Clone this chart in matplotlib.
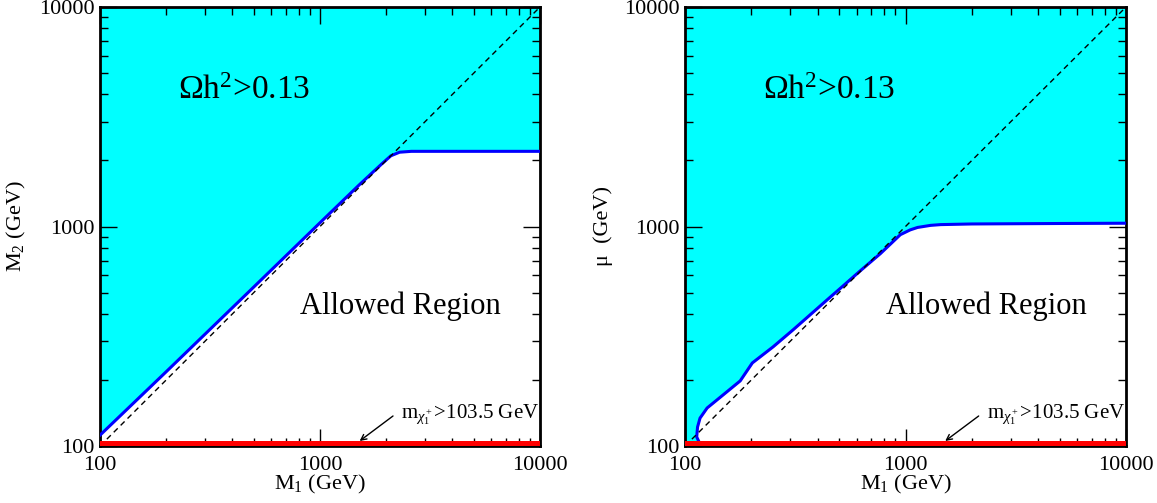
import numpy as np
import matplotlib
matplotlib.use("Agg")
import matplotlib.pyplot as plt
from matplotlib.ticker import LogLocator, FixedLocator, NullFormatter

plt.rcParams['font.family'] = ['Liberation Serif', 'DejaVu Serif']
plt.rcParams['mathtext.fontset'] = 'custom'
plt.rcParams['mathtext.rm'] = 'Liberation Serif'
plt.rcParams['mathtext.it'] = 'Liberation Serif:italic'
plt.rcParams['mathtext.bf'] = 'Liberation Serif:bold'

# Left panel: boundary curve M2 vs M1
left_m1 = [100, 200, 500, 1000, 1500, 1900, 2100, 2300, 2600, 3000, 10000]
left_m2 = [112, 218, 530, 1040, 1540, 1920, 2100, 2180, 2200, 2200, 2200]

# Right panel: boundary curve mu vs M1
right_m1 = [121, 116, 113, 114, 117, 126, 149, 178, 202, 251, 310, 442, 520,
            620, 770, 948, 1050, 1134, 1300, 1443, 2000, 5000, 10000]
right_mu = [100, 104, 110, 122, 134, 149, 171, 198, 239, 283, 339, 464, 535,
            625, 753, 918, 965, 990, 1012, 1020, 1027, 1032, 1035]

diag = [100, 10000]
lep_limit = 103.5
xticks = [100, 1000, 10000]
yticks = [100, 1000, 10000]

fig = plt.figure(figsize=(11.57, 5.03), dpi=100)
W, H = 1157, 503
ax1 = fig.add_axes([100 / W, 1 - 446 / H, 440 / W, 439 / H])
ax2 = fig.add_axes([685 / W, 1 - 446 / H, 441 / W, 439 / H])

cyan = '#00FFFF'

def setup(ax, ylabel):
    ax.set_xscale('log')
    ax.set_yscale('log')
    ax.set_xlim(100, 10000)
    ax.set_ylim(100, 10000)
    ax.xaxis.set_major_locator(FixedLocator(xticks))
    ax.yaxis.set_major_locator(FixedLocator(yticks))
    ax.xaxis.set_minor_locator(LogLocator(base=10, subs=np.arange(2, 10)))
    ax.yaxis.set_minor_locator(LogLocator(base=10, subs=np.arange(2, 10)))
    ax.xaxis.set_minor_formatter(NullFormatter())
    ax.yaxis.set_minor_formatter(NullFormatter())
    ax.set_xticklabels([str(v) for v in xticks])
    ax.set_yticklabels([str(v) for v in yticks])
    ax.tick_params(which='both', direction='in', top=True, right=True,
                   labelsize=16, width=1.0)
    ax.tick_params(which='major', length=12)
    ax.tick_params(axis='x', which='major', pad=7)
    ax.tick_params(axis='y', which='major', pad=4)
    ax.tick_params(which='minor', length=6)
    for s in ax.spines.values():
        s.set_linewidth(2.0)
    ax.set_xlabel(r'M$_1$ (GeV)', fontsize=16, labelpad=-1)
    ax.set_ylabel(ylabel, fontsize=16, labelpad=8)
    # dashed diagonal
    ax.plot(diag, diag, color='black', lw=1.0, ls=(0, (4, 3)), zorder=3)
    # red LEP band
    ax.axhspan(100, 105.5, color='#FF0000', zorder=4, lw=0)
    ax.text(0.455, 0.318, 'Allowed Region', transform=ax.transAxes,
            fontsize=22, ha='left', va='center')
    ax.text(0.177, 0.81, r'$\Omega$h$^2$>0.13', transform=ax.transAxes,
            fontsize=24, ha='left', va='center')
    ax.annotate('', xy=(1514, 105.4), xytext=(2147, 137),
                arrowprops=dict(arrowstyle='->', color='black', lw=1.0,
                                shrinkA=0, shrinkB=0))
    ax.text(2330, 134, r'm$_{\chi^+_1}$>103.5 GeV', fontsize=15,
            ha='left', va='baseline')

# Left fill
px = [100] + left_m1 + [10000, 100]
py = [100] + left_m2 + [10000, 10000]
ax1.fill(px, py, color=cyan, lw=0, zorder=1)
ax1.plot(left_m1, left_m2, color='#0000FF', lw=2.2, zorder=3)
setup(ax1, r'M$_2$ (GeV)')

# Right fill
qx = [100] + right_m1 + [10000, 100]
qy = [100] + right_mu + [10000, 10000]
ax2.fill(qx, qy, color=cyan, lw=0, zorder=1)
ax2.plot(right_m1, right_mu, color='#0000FF', lw=2.2, zorder=3)
setup(ax2, 'μ  (GeV)')

fig.savefig('out.png', dpi=100)
